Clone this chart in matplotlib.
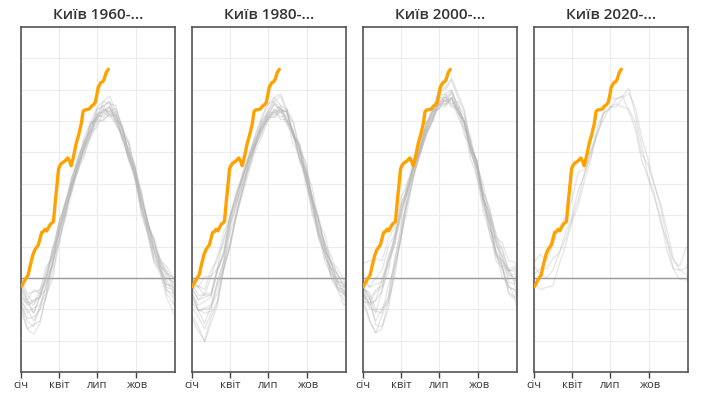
import matplotlib
matplotlib.use("Agg")
import matplotlib.pyplot as plt

plt.rcParams['font.family'] = ['Open Sans', 'DejaVu Sans']

# ---- data -------------------------------------------------------------
DAYS = [0, 15, 30, 45, 60, 75, 90, 105, 120, 135, 150, 165, 180, 195,
        210, 225, 240, 255, 270, 285, 300, 315, 330, 345, 360, 365]

month_ticks = [0, 90, 181, 273]
month_labels = ['січ', 'квіт', 'лип', 'жов']

titles = ['Київ 1960-...', 'Київ 1980-...', 'Київ 2000-...', 'Київ 2020-...']

years_1960 = [
    [-1.0, -2.8, -4.5, -2.5, 0.2, 3.8, 5.5, 9.2, 11.0, 14.5, 16.5, 19.5, 20.2, 21.6, 20.8, 20.8, 17.5, 15.8, 12.5, 9.2, 6.5, 4.8, 1.5, 0.8, -0.8, -1.0],
    [-3.5, -5.5, -6.2, -3.5, -1.8, 2.2, 4.8, 8.0, 12.2, 13.8, 17.2, 19.0, 21.5, 22.0, 22.5, 20.8, 19.2, 16.0, 14.2, 10.0, 7.2, 3.5, 1.2, -1.5, -2.0, -2.8],
    [-0.2, -2.0, -1.8, -1.5, 1.5, 2.5, 6.5, 8.2, 11.5, 14.2, 15.8, 18.5, 19.2, 21.2, 20.5, 20.8, 17.8, 16.5, 12.8, 10.8, 6.8, 5.2, 2.2, 1.5, 0.0, 0.2],
    [-4.2, -6.5, -7.2, -5.8, -2.0, 0.8, 4.2, 8.5, 11.8, 15.0, 17.5, 18.8, 21.5, 21.8, 22.5, 20.2, 18.8, 15.2, 13.2, 8.5, 5.8, 2.2, 0.8, -2.0, -3.2, -3.5],
    [-2.0, -3.5, -3.0, -2.5, 0.2, 1.5, 6.2, 9.5, 12.2, 15.5, 17.2, 19.8, 20.0, 21.5, 21.2, 21.6, 19.0, 17.5, 14.0, 11.2, 7.0, 4.8, 1.5, 0.5, -1.2, -1.5],
    [-3.0, -4.0, -5.5, -4.0, -2.5, 2.0, 4.5, 7.5, 10.8, 13.8, 15.5, 18.2, 20.5, 20.8, 21.8, 19.8, 17.8, 15.2, 13.5, 9.0, 6.2, 2.5, 1.2, -1.5, -2.5, -3.8],
    [-1.2, -2.8, -1.5, -2.0, 1.0, 3.2, 7.2, 9.5, 12.8, 14.5, 17.5, 18.8, 20.8, 20.5, 21.5, 20.2, 19.2, 16.2, 14.5, 10.2, 7.5, 3.8, 2.2, 0.0, -0.5, -0.8],
    [-2.8, -4.5, -3.8, -3.5, -0.8, 1.8, 6.0, 8.2, 11.5, 14.2, 16.2, 19.5, 20.5, 22.5, 22.2, 22.0, 18.8, 17.2, 12.8, 9.5, 5.8, 3.8, 0.8, -0.2, -1.8, -2.2],
    [-2.5, -3.0, -3.5, -2.0, -0.5, 3.5, 5.8, 9.5, 11.2, 14.8, 16.5, 18.5, 20.2, 20.0, 21.2, 19.8, 18.2, 15.5, 14.0, 9.8, 7.2, 3.5, 1.8, -0.8, -1.0, -1.5],
    [-3.5, -6.5, -6.0, -5.5, -2.2, -0.2, 5.2, 7.8, 11.8, 13.5, 17.0, 18.2, 20.8, 21.2, 22.0, 20.0, 18.5, 15.0, 12.8, 8.2, 5.5, 2.0, 0.5, -2.5, -4.2, -5.0],
    [-1.5, -3.2, -2.8, -2.5, 0.5, 2.8, 7.0, 9.2, 12.5, 15.2, 17.0, 19.8, 20.5, 22.0, 20.8, 21.2, 18.2, 17.2, 13.8, 10.8, 6.5, 4.8, 2.0, 1.0, -0.5, -0.5],
    [-2.8, -3.2, -4.5, -2.2, -1.5, 2.8, 5.5, 8.8, 11.2, 14.5, 16.8, 18.5, 21.0, 21.2, 21.8, 20.5, 19.2, 16.0, 13.8, 9.2, 6.5, 3.2, 1.5, -0.8, -1.2, -2.0],
    [-3.2, -5.2, -5.0, -4.0, -0.8, 1.5, 6.5, 9.0, 12.8, 15.0, 18.0, 19.8, 21.8, 22.5, 23.2, 21.2, 19.5, 15.8, 13.5, 9.0, 6.2, 2.8, 1.0, -1.2, -1.5, -2.5],
    [-0.8, -2.2, -3.2, -1.5, -0.2, 3.8, 6.8, 9.8, 12.0, 14.2, 16.5, 17.8, 19.8, 20.2, 20.8, 19.5, 18.2, 15.2, 13.2, 10.2, 7.2, 4.2, 2.5, 0.5, 0.2, -0.5],
]

years_1980 = [
    [-3.2, -4.2, -5.8, -3.5, -2.0, 2.0, 4.5, 8.0, 11.2, 14.0, 16.8, 18.8, 20.5, 20.5, 21.5, 20.0, 18.5, 15.2, 13.5, 9.0, 6.2, 2.8, 1.2, -1.2, -1.8, -2.5],
    [-2.0, -3.5, -3.0, -2.5, 0.8, 2.8, 7.2, 9.8, 12.8, 15.5, 17.2, 19.8, 21.2, 22.5, 21.5, 21.2, 18.2, 16.8, 13.2, 10.5, 6.8, 4.5, 1.8, 0.5, -1.0, -1.2],
    [-0.8, -2.2, -2.2, -2.2, 1.0, 3.0, 6.8, 9.5, 12.0, 14.2, 17.0, 18.5, 20.8, 20.8, 21.8, 20.2, 18.8, 15.8, 13.8, 9.5, 7.2, 3.5, 2.0, -0.5, -0.5, -1.2],
    [-0.5, -1.2, -2.2, 0.2, 1.2, 5.0, 7.5, 10.8, 13.0, 15.8, 17.5, 20.0, 21.2, 23.0, 22.0, 21.5, 18.0, 16.2, 12.5, 9.8, 5.8, 3.8, 0.8, -0.2, -1.8, -1.5],
    [-2.2, -4.2, -4.0, -3.8, -1.0, 1.2, 5.8, 8.2, 11.8, 14.2, 16.8, 18.5, 20.5, 20.5, 21.2, 19.5, 18.2, 15.2, 13.8, 10.0, 7.8, 4.2, 2.8, 0.2, -0.2, -1.2],
    [-4.8, -6.2, -8.2, -5.8, -3.5, 1.0, 4.2, 8.2, 11.2, 14.8, 16.8, 19.2, 20.5, 22.2, 21.5, 21.2, 18.2, 16.8, 12.5, 9.8, 5.2, 3.2, -0.2, -1.5, -3.5, -3.2],
    [-2.0, -4.0, -4.5, -4.2, -0.5, 2.0, 6.8, 9.5, 12.8, 15.2, 17.8, 19.2, 21.2, 21.0, 21.5, 19.8, 18.5, 15.0, 13.0, 8.5, 6.2, 2.5, 1.2, -1.2, -1.5, -2.5],
    [-5.2, -6.8, -8.0, -5.0, -3.2, 1.2, 3.8, 7.8, 10.8, 13.5, 16.2, 18.0, 20.0, 21.2, 20.2, 20.2, 17.0, 15.8, 11.8, 9.2, 5.0, 3.2, 0.2, -1.2, -2.8, -3.2],
    [-1.2, -2.8, -2.0, -2.0, 1.2, 3.2, 7.8, 10.2, 13.5, 15.5, 18.2, 20.2, 22.2, 22.5, 23.2, 21.0, 19.8, 16.2, 14.5, 10.0, 7.5, 3.8, 1.8, -0.8, -1.2, -2.2],
    [0.0, -1.2, 0.2, 0.2, 2.8, 4.5, 7.8, 10.5, 12.8, 15.2, 17.2, 19.5, 20.8, 22.2, 21.2, 21.2, 18.2, 17.2, 13.8, 11.5, 7.2, 5.5, 2.0, 1.2, -0.2, 0.2],
    [-1.5, -1.0, -1.5, 1.0, 2.2, 5.8, 7.8, 11.0, 12.5, 15.2, 16.8, 19.0, 20.2, 21.5, 21.0, 21.5, 18.5, 16.8, 13.2, 10.5, 6.2, 4.5, 1.2, 0.5, -1.2, -0.8],
    [-2.5, -4.2, -3.8, -3.5, -0.5, 2.0, 6.5, 9.0, 12.2, 14.8, 17.2, 19.2, 20.2, 21.5, 20.5, 20.8, 18.0, 16.5, 12.5, 9.8, 5.5, 3.8, 0.5, -0.5, -2.2, -1.8],
    [-3.8, -5.0, -6.5, -4.5, -3.0, 1.2, 4.0, 8.0, 11.2, 14.8, 17.5, 19.5, 20.8, 21.2, 22.0, 20.0, 18.8, 15.0, 12.8, 8.0, 5.5, 2.0, 0.5, -1.5, -2.0, -3.0],
    [-1.5, -2.8, -2.5, -2.2, 1.0, 3.2, 7.8, 10.2, 13.2, 15.5, 18.2, 20.5, 22.2, 23.0, 23.5, 21.5, 20.0, 16.5, 14.8, 10.0, 7.5, 3.5, 2.0, -0.5, -0.8, -1.5],
]

years_2000 = [
    [-1.2, -2.8, -1.5, -1.0, 2.5, 4.8, 9.2, 11.5, 14.2, 16.2, 18.8, 20.5, 22.2, 22.2, 23.0, 21.0, 19.8, 16.2, 14.5, 10.2, 8.0, 4.2, 2.8, 0.5, 0.0, -0.8],
    [0.8, -1.2, 0.0, 1.0, 4.0, 5.5, 9.5, 11.2, 14.5, 16.5, 19.2, 20.8, 23.2, 23.5, 24.0, 21.8, 20.0, 16.0, 13.8, 9.0, 6.8, 2.8, 1.2, -1.8, -2.5, -3.2],
    [-2.2, -3.2, -5.5, -4.0, -2.5, 2.0, 5.2, 9.5, 12.8, 16.5, 18.5, 21.2, 21.5, 23.2, 22.0, 21.8, 19.0, 17.5, 13.5, 10.8, 6.2, 4.8, 1.5, 1.0, -0.8, -0.5],
    [-2.0, -5.5, -7.0, -6.5, -3.0, 0.0, 5.5, 8.5, 13.2, 15.5, 18.5, 20.2, 22.5, 22.5, 23.5, 21.5, 20.2, 16.8, 14.8, 10.2, 8.2, 4.8, 3.5, 1.0, 0.8, 0.0],
    [1.8, 2.2, 2.5, 2.2, 5.0, 6.5, 10.2, 12.0, 15.0, 17.0, 19.8, 21.2, 23.8, 24.0, 25.2, 23.0, 21.2, 17.2, 14.5, 9.5, 7.0, 3.0, 1.5, -1.2, -1.5, -2.5],
    [-1.5, -3.5, -2.8, -1.8, 2.0, 4.2, 8.5, 10.8, 13.8, 15.8, 18.5, 20.0, 22.0, 21.8, 23.0, 21.2, 20.0, 16.5, 15.0, 11.0, 9.0, 5.2, 3.8, 0.8, 1.2, 0.5],
    [-3.2, -5.2, -7.0, -4.8, -2.5, 2.5, 6.0, 10.2, 13.8, 16.8, 19.5, 21.2, 24.2, 24.2, 25.5, 23.5, 21.5, 17.2, 14.8, 10.2, 8.2, 4.5, 2.8, -0.5, -0.8, -2.0],
    [-2.0, -3.8, -4.2, -4.5, -1.0, 1.5, 6.8, 9.5, 13.0, 15.8, 18.2, 20.2, 22.5, 22.2, 23.0, 21.0, 19.8, 16.0, 14.0, 9.8, 7.0, 3.0, 2.2, 1.0, 1.5, 0.5],
    [-1.0, -2.2, -6.0, -6.2, -4.0, 1.2, 5.0, 9.8, 13.8, 16.2, 19.0, 20.5, 23.0, 23.0, 23.8, 21.5, 20.0, 16.2, 14.2, 10.0, 7.5, 3.2, 1.5, -2.0, -2.8, -3.8],
    [-1.2, -2.5, -4.5, -1.5, 0.8, 5.0, 7.5, 11.5, 13.2, 16.0, 18.2, 20.0, 22.2, 22.0, 22.8, 20.5, 19.0, 15.2, 13.0, 8.5, 6.0, 2.2, 1.2, -1.2, -1.5, -2.5],
    [-0.2, -1.2, -0.8, -0.5, 2.8, 5.0, 9.0, 11.0, 14.8, 16.2, 19.8, 20.5, 22.8, 22.5, 23.8, 22.0, 20.8, 17.0, 14.8, 10.0, 7.2, 3.5, 2.0, 0.2, 0.5, -0.5],
    [-3.0, -3.2, -3.0, 0.0, 1.5, 5.5, 8.0, 12.2, 13.8, 16.8, 18.8, 21.5, 21.5, 23.0, 21.8, 21.5, 18.2, 16.8, 12.8, 10.0, 5.5, 3.5, 0.0, -0.8, -2.5, -2.0],
    [-1.5, -1.8, -4.0, -4.0, -3.2, 1.0, 5.0, 11.2, 14.2, 17.5, 19.2, 22.0, 22.0, 23.5, 22.2, 22.5, 19.5, 18.0, 14.2, 12.0, 7.8, 5.8, 2.2, 1.2, -0.5, 0.0],
    [-1.8, -3.2, -1.8, -1.2, 2.2, 4.2, 8.5, 10.8, 14.5, 16.2, 19.8, 21.2, 23.2, 22.5, 23.0, 21.2, 20.0, 16.5, 14.8, 10.8, 8.8, 5.2, 4.5, 2.2, 2.0, 1.2],
]

years_2020 = [
    [2.0, 3.0, 2.2, 4.2, 6.5, 7.8, 10.0, 13.5, 13.8, 16.2, 18.2, 21.0, 21.8, 22.2, 21.8, 21.5, 19.8, 15.8, 14.5, 11.8, 9.5, 6.2, 2.5, 1.0, 0.5, 0.0],
    [-0.5, -1.5, -1.2, -1.0, 1.8, 4.2, 7.2, 9.2, 12.5, 15.2, 19.2, 21.2, 23.0, 22.8, 23.2, 21.2, 19.0, 15.0, 12.8, 10.2, 7.8, 3.5, 1.2, -0.2, -0.2, -0.6],
    [0.5, 1.2, 1.2, 2.5, 3.2, 5.8, 7.8, 11.2, 13.2, 16.2, 18.5, 21.0, 21.5, 22.8, 23.2, 24.2, 20.8, 17.0, 13.0, 10.8, 7.0, 4.8, 1.2, 1.0, 1.2, 1.8],
    [1.5, 0.5, 0.0, 1.0, 3.2, 5.0, 7.5, 10.0, 13.5, 15.5, 18.5, 20.2, 21.8, 21.8, 23.0, 23.5, 21.8, 18.0, 15.2, 12.0, 9.0, 5.0, 2.2, 1.5, 3.8, 4.0],
]

panels = [years_1960, years_1980, years_2000, years_2020]

cur_days = [1, 9, 17, 22, 28, 33, 41, 49, 53, 57, 61, 69, 73, 77, 81, 85, 89, 92, 96,
            104, 111, 116, 119, 125, 131, 136, 143, 147, 150, 159, 163, 167, 172, 176,
            180, 183, 189, 193, 197, 202, 207]
cur_vals = [-1.1, -0.3, 0.4, 1.6, 2.9, 3.6, 4.2, 5.8, 5.9, 6.2, 6.0, 6.8, 7.0, 7.2, 9.6, 11.7,
            13.9, 14.3, 14.6, 14.9, 15.3, 14.8, 14.3, 15.6, 17.2, 18.1, 19.7, 21.2, 21.4,
            21.5, 21.6, 21.9, 22.1, 22.4, 23.4, 24.3, 24.9, 25.0, 25.3, 26.2, 26.6]

# ---- figure -----------------------------------------------------------
fig = plt.figure(figsize=(7.05, 3.95), dpi=100)
W, H = 705.0, 395.0
lefts = [21, 192, 363, 534]
pw = 154
top, bottom = 27, 372

for i, (left, years) in enumerate(zip(lefts, panels)):
    ax = fig.add_axes([left / W, 1 - bottom / H, pw / W, (bottom - top) / H])
    ax.set_xlim(0, 365)
    ax.set_ylim(-12, 32)
    ax.set_yticks(range(-12, 33, 4))
    ax.set_xticks(month_ticks)
    ax.set_xticklabels(month_labels)
    ax.grid(True, color='#ececec', linewidth=0.8, zorder=0)
    ax.set_axisbelow(True)
    ax.tick_params(axis='y', length=0, labelleft=False)
    ax.tick_params(axis='x', length=4, width=1, color='#444444',
                   labelsize=8, labelcolor='#333333', pad=2)
    for s in ax.spines.values():
        s.set_color('#555555')
        s.set_linewidth(1.2)
    ax.axhline(0, color='#999999', linewidth=1.0, zorder=1)
    for yr in years:
        ax.plot(DAYS, yr, color='#b0b0b0', alpha=0.3, linewidth=1.0, zorder=2)
    ax.plot(cur_days, cur_vals, color='#FFA200', linewidth=2.4, zorder=3,
            solid_joinstyle='round', solid_capstyle='round')
    ax.set_title(titles[i], fontsize=11, fontweight='semibold', color='#333333', pad=6)

fig.savefig('out.png', dpi=100)
